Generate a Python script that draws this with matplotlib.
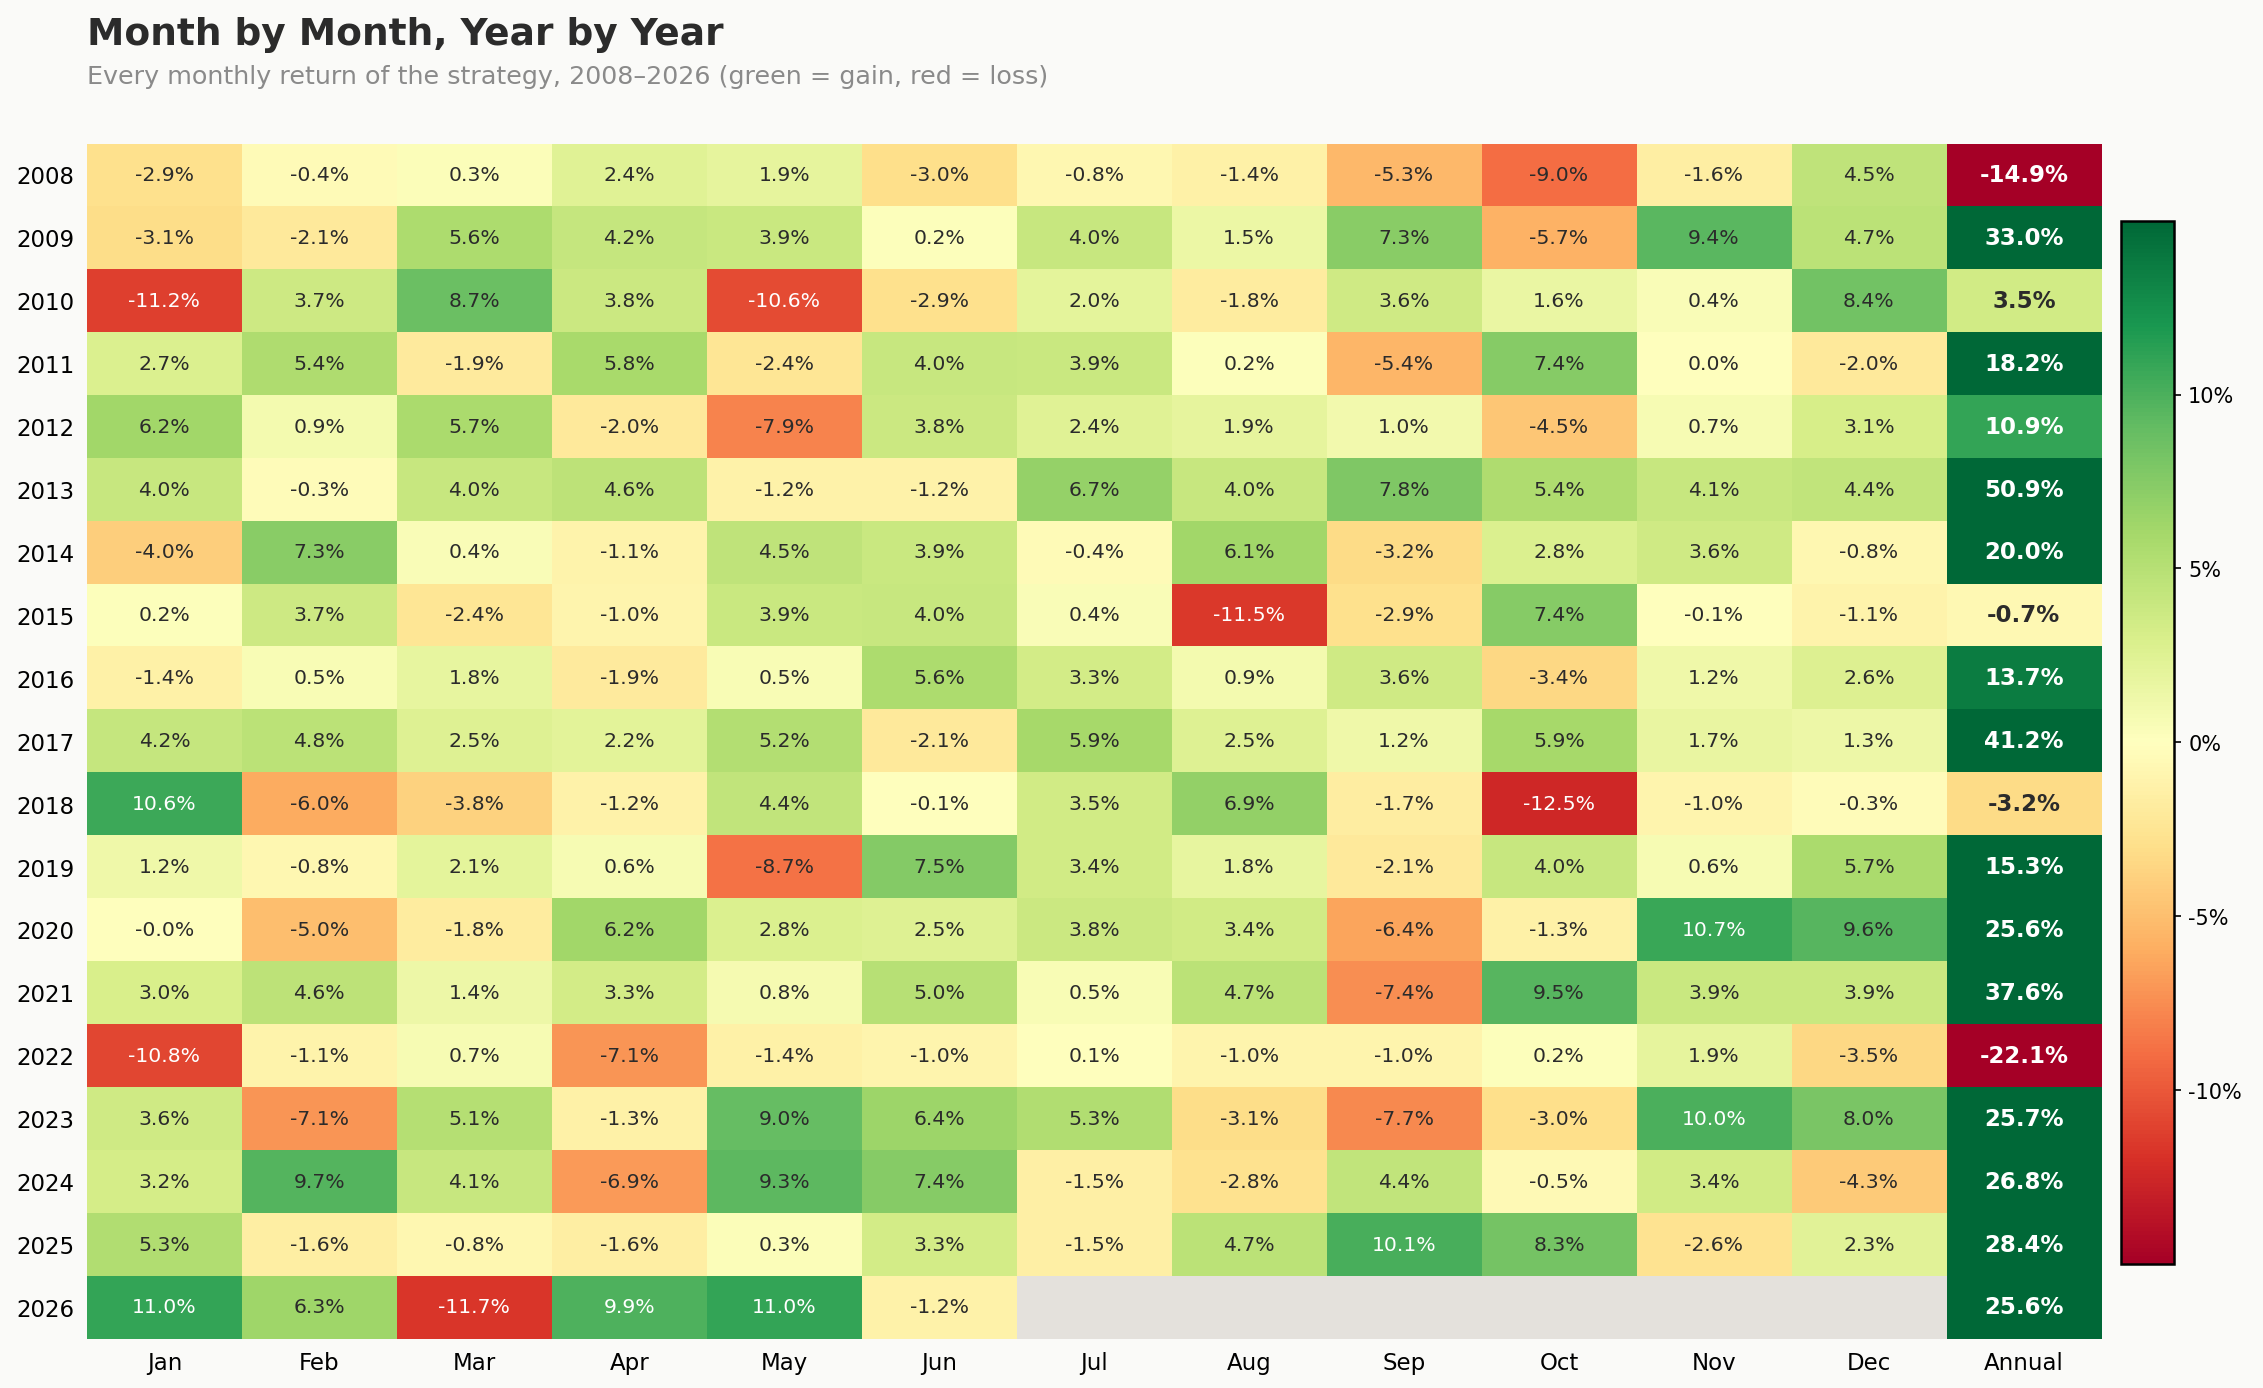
import numpy as np
import matplotlib
matplotlib.use("Agg")
from matplotlib import pyplot as plt
from matplotlib.colors import Normalize

years = list(range(2008, 2027))
months = ['Jan', 'Feb', 'Mar', 'Apr', 'May', 'Jun',
          'Jul', 'Aug', 'Sep', 'Oct', 'Nov', 'Dec']

# monthly returns in percent, one row per year (nan = not yet happened)
nan = np.nan
monthly = [
    [-2.9, -0.4, 0.3, 2.4, 1.9, -3.0, -0.8, -1.4, -5.3, -9.0, -1.6, 4.5],
    [-3.1, -2.1, 5.6, 4.2, 3.9, 0.2, 4.0, 1.5, 7.3, -5.7, 9.4, 4.7],
    [-11.2, 3.7, 8.7, 3.8, -10.6, -2.9, 2.0, -1.8, 3.6, 1.6, 0.4, 8.4],
    [2.7, 5.4, -1.9, 5.8, -2.4, 4.0, 3.9, 0.2, -5.4, 7.4, 0.0, -2.0],
    [6.2, 0.9, 5.7, -2.0, -7.9, 3.8, 2.4, 1.9, 1.0, -4.5, 0.7, 3.1],
    [4.0, -0.3, 4.0, 4.6, -1.2, -1.2, 6.7, 4.0, 7.8, 5.4, 4.1, 4.4],
    [-4.0, 7.3, 0.4, -1.1, 4.5, 3.9, -0.4, 6.1, -3.2, 2.8, 3.6, -0.8],
    [0.2, 3.7, -2.4, -1.0, 3.9, 4.0, 0.4, -11.5, -2.9, 7.4, -0.1, -1.1],
    [-1.4, 0.5, 1.8, -1.9, 0.5, 5.6, 3.3, 0.9, 3.6, -3.4, 1.2, 2.6],
    [4.2, 4.8, 2.5, 2.2, 5.2, -2.1, 5.9, 2.5, 1.2, 5.9, 1.7, 1.3],
    [10.6, -6.0, -3.8, -1.2, 4.4, -0.1, 3.5, 6.9, -1.7, -12.5, -1.0, -0.3],
    [1.2, -0.8, 2.1, 0.6, -8.7, 7.5, 3.4, 1.8, -2.1, 4.0, 0.6, 5.7],
    [-0.0, -5.0, -1.8, 6.2, 2.8, 2.5, 3.8, 3.4, -6.4, -1.3, 10.7, 9.6],
    [3.0, 4.6, 1.4, 3.3, 0.8, 5.0, 0.5, 4.7, -7.4, 9.5, 3.9, 3.9],
    [-10.8, -1.1, 0.7, -7.1, -1.4, -1.0, 0.1, -1.0, -1.0, 0.2, 1.9, -3.5],
    [3.6, -7.1, 5.1, -1.3, 9.0, 6.4, 5.3, -3.1, -7.7, -3.0, 10.0, 8.0],
    [3.2, 9.7, 4.1, -6.9, 9.3, 7.4, -1.5, -2.8, 4.4, -0.5, 3.4, -4.3],
    [5.3, -1.6, -0.8, -1.6, 0.3, 3.3, -1.5, 4.7, 10.1, 8.3, -2.6, 2.3],
    [11.0, 6.3, -11.7, 9.9, 11.0, -1.2, nan, nan, nan, nan, nan, nan],
]
annual = [-14.9, 33.0, 3.5, 18.2, 10.9, 50.9, 20.0, -0.7, 13.7, 41.2,
          -3.2, 15.3, 25.6, 37.6, -22.1, 25.7, 26.8, 28.4, 25.6]

bg = '#fafaf8'
dark = '#2b2b2b'

grid = np.column_stack([np.array(monthly), np.array(annual)])
cmap = plt.get_cmap('RdYlGn').copy()
cmap.set_bad('#e4e1dc')
norm = Normalize(vmin=-15, vmax=15)

fig = plt.figure(figsize=(2263.4/150, 1388.4/150), dpi=150, facecolor=bg)
ax = fig.add_axes([0.0384, 0.0353, 0.89, 0.861])
ax.set_facecolor(bg)
im = ax.imshow(np.ma.masked_invalid(grid), cmap=cmap, norm=norm,
               aspect='auto', interpolation='nearest')

for i in range(grid.shape[0]):
    for j in range(grid.shape[1]):
        v = grid[i, j]
        if np.isnan(v):
            continue
        color = 'white' if abs(v) > 9.75 else dark
        is_annual = j == grid.shape[1] - 1
        ax.text(j, i, f"{v:.1f}%", ha='center', va='center', color=color,
                fontsize=11 if is_annual else 9.8,
                fontweight='bold' if is_annual else 'normal')

ax.set_xticks(range(13))
ax.set_xticklabels(months + ['Annual'], fontsize=11)
ax.set_yticks(range(len(years)))
ax.set_yticklabels([str(y) for y in years], fontsize=11)
ax.tick_params(length=0, pad=6)
for s in ax.spines.values():
    s.set_visible(False)

cax = fig.add_axes([0.9373, 0.0893, 0.023, 0.7515])
cb = fig.colorbar(im, cax=cax, ticks=[-10, -5, 0, 5, 10])
cb.ax.set_yticklabels(['-10%', '-5%', '0%', '5%', '10%'], fontsize=10)
cb.outline.set_linewidth(1.2)

fig.text(0.0384, 0.988, 'Month by Month, Year by Year', fontsize=18,
         fontweight='bold', color=dark, va='top')
fig.text(0.0384, 0.953, 'Every monthly return of the strategy, 2008\u20132026 '
         '(green = gain, red = loss)', fontsize=12.2, color='#8a8a8a', va='top')

fig.savefig('out.png', dpi=150, facecolor=bg)
